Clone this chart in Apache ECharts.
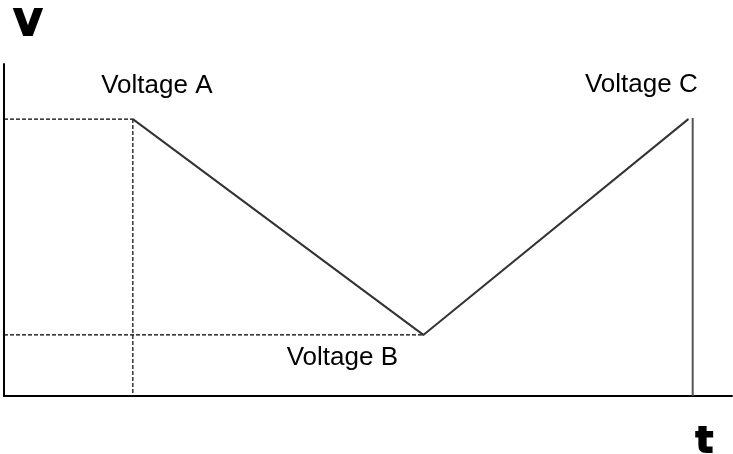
<!DOCTYPE html>
<html>
<head>
<meta charset="utf-8">
<script src="https://cdn.jsdelivr.net/npm/echarts@6/dist/echarts.min.js"></script>
<style>
  html, body { margin: 0; padding: 0; background: #fff; }
  #chart { width: 733px; height: 454px; }
</style>
</head>
<body>
<div id="chart"></div>
<script>
// axis words
const axisNames = ['V', 't']
// the three voltage points (x in % of time span, y in % of voltage span)
const pointNames = ['Voltage A', 'Voltage B', 'Voltage C']
const pointX = [17.7, 57.6, 94.0]
const pointY = [83.4, 18.4, 83.4]
// right hand end marker
const endX = 94.6

var chart = echarts.init(document.getElementById('chart'))

// label offsets from each point (px)
var labelOffsets = [[24, -33], [-81, 23], [-47, -34]]

var vData = pointNames.map(function (name, i) {
  return {
    value: [pointX[i], pointY[i]],
    name: name,
    label: { offset: labelOffsets[i] }
  }
})

function dashed(data) {
  return {
    type: 'line',
    data: data,
    symbol: 'none',
    silent: true,
    lineStyle: { color: '#000', width: 1.2, type: [4, 2] },
    z: 1
  }
}

// heavy letters for the axis names
var heavyText = {
  fontFamily: 'DejaVu Sans',
  fontSize: 36,
  fontWeight: 900,
  color: '#000',
  textBorderColor: '#000',
  textBorderWidth: 2
}

var option = {
  animation: false,
  title: [
    { text: axisNames[0], left: 9, top: 3, textStyle: heavyText },
    { text: axisNames[1], right: 13, bottom: -14, textStyle: heavyText }
  ],
  grid: { left: 4, right: 1, top: 64, bottom: 58 },
  xAxis: {
    type: 'value',
    min: 0,
    max: 100,
    axisLine: { show: true, lineStyle: { color: '#000', width: 2 } },
    axisTick: { show: false },
    axisLabel: { show: false },
    splitLine: { show: false }
  },
  yAxis: {
    type: 'value',
    min: 0,
    max: 100,
    axisLine: { show: true, lineStyle: { color: '#000', width: 2 } },
    axisTick: { show: false },
    axisLabel: { show: false },
    splitLine: { show: false }
  },
  series: [
    dashed([[0, pointY[0]], [pointX[0], pointY[0]]]),
    dashed([[pointX[0], pointY[0]], [pointX[0], 0]]),
    dashed([[0, pointY[1]], [pointX[1], pointY[1]]]),
    {
      type: 'line',
      data: [[endX, 0], [endX, pointY[2] + 0.3]],
      symbol: 'none',
      lineStyle: { color: '#555', width: 2 },
      z: 2
    },
    {
      type: 'line',
      data: vData,
      showSymbol: true,
      symbol: 'circle',
      symbolSize: 1,
      itemStyle: { color: '#333' },
      lineStyle: { color: '#333', width: 2 },
      label: {
        show: true,
        position: 'inside',
        formatter: '{b}',
        fontFamily: 'Liberation Sans',
        fontSize: 26,
        color: '#000',
        align: 'center',
        verticalAlign: 'middle'
      },
      z: 3
    }
  ]
}

chart.setOption(option)
</script>
</body>
</html>
